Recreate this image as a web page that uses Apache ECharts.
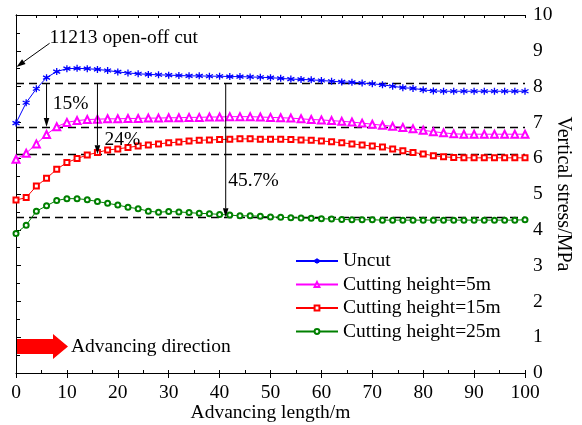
<!DOCTYPE html>
<html>
<head>
<meta charset="utf-8">
<script src="https://cdn.jsdelivr.net/npm/echarts@6/dist/echarts.min.js"></script>
<style>
  html, body { margin: 0; padding: 0; background: #fff; }
  #chart { width: 582px; height: 425px; }
</style>
</head>
<body>
<div id="chart"></div>
<script>
// Advancing length (m)
const lengths = [0, 2, 4, 6, 8, 10, 12, 14, 16, 18, 20, 22, 24, 26, 28, 30, 32, 34, 36, 38, 40,
  42, 44, 46, 48, 50, 52, 54, 56, 58, 60, 62, 64, 66, 68, 70, 72, 74, 76, 78, 80,
  82, 84, 86, 88, 90, 92, 94, 96, 98, 100];

// Vertical stress (MPa) for each case
const uncut = [6.98, 7.55, 7.94, 8.25, 8.42, 8.50, 8.51, 8.50, 8.48, 8.45, 8.41, 8.38, 8.36, 8.34, 8.33,
  8.32, 8.31, 8.30, 8.30, 8.29, 8.29, 8.28, 8.28, 8.27, 8.26, 8.25, 8.23, 8.21, 8.20, 8.19,
  8.17, 8.15, 8.13, 8.12, 8.10, 8.08, 8.05, 8.01, 7.97, 7.95, 7.91, 7.88, 7.87, 7.87, 7.87,
  7.87, 7.87, 7.87, 7.87, 7.87, 7.87];
const cut5m = [5.97, 6.14, 6.40, 6.66, 6.88, 7.00, 7.05, 7.08, 7.09, 7.10, 7.10, 7.11, 7.11, 7.12, 7.12,
  7.13, 7.13, 7.14, 7.14, 7.15, 7.15, 7.16, 7.16, 7.16, 7.15, 7.14, 7.13, 7.12, 7.10, 7.08,
  7.07, 7.05, 7.03, 7.01, 6.98, 6.95, 6.92, 6.89, 6.86, 6.82, 6.78, 6.74, 6.71, 6.68, 6.67,
  6.67, 6.67, 6.67, 6.67, 6.67, 6.67];
const cut15m = [4.83, 4.90, 5.22, 5.44, 5.69, 5.88, 5.99, 6.09, 6.16, 6.23, 6.26, 6.30, 6.34, 6.37, 6.40,
  6.43, 6.45, 6.48, 6.50, 6.51, 6.52, 6.53, 6.54, 6.54, 6.53, 6.53, 6.53, 6.52, 6.51, 6.50,
  6.48, 6.46, 6.43, 6.40, 6.37, 6.34, 6.31, 6.26, 6.21, 6.16, 6.12, 6.07, 6.04, 6.02, 6.01,
  6.01, 6.01, 6.01, 6.01, 6.01, 6.01];
const cut25m = [3.90, 4.13, 4.52, 4.67, 4.82, 4.87, 4.87, 4.84, 4.79, 4.74, 4.69, 4.63, 4.59, 4.52, 4.49,
  4.51, 4.50, 4.48, 4.46, 4.45, 4.43, 4.41, 4.39, 4.39, 4.38, 4.36, 4.35, 4.34, 4.33, 4.32,
  4.31, 4.30, 4.29, 4.28, 4.28, 4.28, 4.27, 4.27, 4.27, 4.27, 4.27, 4.27, 4.27, 4.27, 4.27,
  4.27, 4.27, 4.27, 4.27, 4.27, 4.28];

const seriesNames = ['Uncut', 'Cutting height=5m', 'Cutting height=15m', 'Cutting height=25m'];

// Stable stress levels (dashed reference lines)
const stableLevels = [8.08, 6.87, 6.11, 4.35];

// Stress reduction markers: position along the panel, from/to levels, text
const dropAt = [6, 16, 41.2];
const dropFrom = [8.08, 8.08, 8.08];
const dropTo = [6.87, 6.11, 4.35];
const dropText = ['15%', '24%', '45.7%'];

const serif = "'Liberation Serif', 'Times New Roman', serif";
const fs = 19.5;
const pair = (ys) => lengths.map((x, i) => [x, ys[i]]);

const chart = echarts.init(document.getElementById('chart'), null, { renderer: 'canvas' });

const asterisk = 'path://M0,-5L0,5M-4.33,-2.5L4.33,2.5M-4.33,2.5L4.33,-2.5';

const curveBase = {
  type: 'line',
  xAxisIndex: 0,
  yAxisIndex: 0,
  silent: true,
  z: 5
};

const series = [
  {
    type: 'line',
    name: 'levels',
    xAxisIndex: 0, yAxisIndex: 0,
    data: [],
    silent: true,
    z: 3,
    markLine: {
      silent: true,
      symbol: ['none', 'none'],
      label: { show: false },
      lineStyle: { color: '#000', type: [8, 5], width: 1.4 },
      data: stableLevels.map(v => [{ coord: [0, v] }, { coord: [100, v] }])
    }
  },
  Object.assign({}, curveBase, {
    name: seriesNames[0],
    data: pair(uncut),
    symbol: asterisk,
    symbolSize: 7,
    lineStyle: { color: '#0000ff', width: 1 },
    itemStyle: { color: '#0000ff', borderColor: '#0000ff', borderWidth: 1.3 }
  }),
  Object.assign({}, curveBase, {
    name: seriesNames[1],
    data: pair(cut5m),
    symbol: 'emptyTriangle',
    symbolSize: 7,
    lineStyle: { color: '#ff00ff', width: 1 },
    itemStyle: { color: '#ff00ff', borderColor: '#ff00ff', borderWidth: 1 }
  }),
  Object.assign({}, curveBase, {
    name: seriesNames[2],
    data: pair(cut15m),
    symbol: 'emptyRect',
    symbolSize: 5,
    lineStyle: { color: '#ff0000', width: 1 },
    itemStyle: { color: '#ff0000', borderColor: '#ff0000', borderWidth: 1 }
  }),
  Object.assign({}, curveBase, {
    name: seriesNames[3],
    data: pair(cut25m),
    symbol: 'emptyCircle',
    symbolSize: 5,
    lineStyle: { color: '#008000', width: 1 },
    itemStyle: { color: '#008000', borderColor: '#008000', borderWidth: 1 }
  })
];

const axisBlack = { lineStyle: { color: '#000', width: 1 } };

chart.setOption({
  animation: false,
  backgroundColor: '#fff',
  grid: { left: 16, right: 57, top: 15, bottom: 52, containLabel: false, outerBoundsMode: 'none' },
  legend: {
    data: seriesNames,
    orient: 'vertical',
    left: 290,
    top: 246,
    itemWidth: 42,
    itemHeight: 6,
    itemGap: 3.5,
    selectedMode: false,
    textStyle: { fontFamily: serif, fontSize: fs, color: '#000', lineHeight: 19.5 }
  },
  xAxis: [
    {
      type: 'value', position: 'bottom', min: 0, max: 100, interval: 10,
      name: 'Advancing length/m', nameLocation: 'middle', nameGap: 30, nameMoveOverlap: false,
      nameTextStyle: { fontFamily: serif, fontSize: fs, color: '#000' },
      axisLine: axisBlack,
      axisTick: { show: true, inside: false, length: 5, lineStyle: { color: '#000' } },
      axisLabel: { fontFamily: serif, fontSize: fs, color: '#000', margin: 10 },
      splitLine: { show: false }
    },
    {
      type: 'value', position: 'bottom', min: 0, max: 100, interval: 5,
      axisLine: { show: false },
      axisTick: { show: true, inside: true, length: 3, lineStyle: { color: '#000' } },
      axisLabel: { show: false },
      splitLine: { show: false }
    },
    {
      type: 'value', position: 'top', min: 0, max: 100, interval: 4,
      axisLine: axisBlack,
      axisTick: { show: true, inside: true, length: 3, lineStyle: { color: '#000' } },
      axisLabel: { show: false },
      splitLine: { show: false }
    }
  ],
  yAxis: [
    {
      type: 'value', position: 'right', min: 0, max: 10, interval: 1,
      name: 'Vertical stress/MPa', nameLocation: 'middle', nameGap: 28, nameRotate: -90, nameMoveOverlap: false,
      nameTextStyle: { fontFamily: serif, fontSize: 20, color: '#000' },
      axisLine: { show: true, lineStyle: { color: '#000', width: 1 } },
      axisTick: { show: true, inside: false, length: 5, lineStyle: { color: '#000' } },
      minorTick: { show: true, splitNumber: 2, length: 3, lineStyle: { color: '#000' } },
      axisLabel: { fontFamily: serif, fontSize: fs, color: '#000', margin: 8 },
      splitLine: { show: false }
    },
    {
      type: 'value', position: 'left', min: 0, max: 10, interval: 0.5,
      axisLine: { show: true, lineStyle: { color: '#000', width: 1 } },
      axisTick: { show: true, inside: true, length: 4, lineStyle: { color: '#000' } },
      axisLabel: { show: false },
      splitLine: { show: false }
    }
  ],
  series: series
});

// Annotations anchored in data space
const px = (x, y) => chart.convertToPixel({ xAxisIndex: 0, yAxisIndex: 0 }, [x, y]);
const textAt = (x, y, text) => {
  const p = px(x, y);
  return {
    type: 'text', x: p[0], y: p[1], silent: true, z: 10,
    style: { text: text, fontFamily: serif, fontSize: fs, fill: '#000', align: 'left', verticalAlign: 'middle' }
  };
};

// Straight arrow with a filled triangular head
const arrow = (from, to, headLen, headHalf) => {
  const a = px(from[0], from[1]);
  const b = px(to[0], to[1]);
  const ang = Math.atan2(b[1] - a[1], b[0] - a[0]);
  const hx = b[0] - headLen * Math.cos(ang), hy = b[1] - headLen * Math.sin(ang);
  return [
    {
      type: 'line', silent: true, z: 10,
      shape: { x1: a[0], y1: a[1], x2: hx, y2: hy },
      style: { stroke: '#000', lineWidth: 1 }
    },
    {
      type: 'polygon', silent: true, z: 10,
      shape: { points: [
        [b[0], b[1]],
        [hx + headHalf * Math.sin(ang), hy - headHalf * Math.cos(ang)],
        [hx - headHalf * Math.sin(ang), hy + headHalf * Math.cos(ang)]
      ] },
      style: { fill: '#000' }
    }
  ];
};

let graphics = [textAt(6.6, 9.35, '11213 open-off cut')];
graphics = graphics.concat(arrow([6.6, 9.21], [0.1, 8.55], 9, 3));
dropAt.forEach((x, i) => {
  graphics = graphics.concat(arrow([x, dropFrom[i]], [x, dropTo[i]], 9, 2.8));
});
graphics.push(textAt(7.2, 7.51, dropText[0]));
graphics.push(textAt(17.4, 6.51, dropText[1]));
graphics.push(textAt(41.7, 5.36, dropText[2]));

// Advancing direction arrow
graphics.push({
  type: 'polygon', silent: true, z: 10,
  shape: { points: [[17, 339], [53, 339], [53, 334], [68, 346.5], [53, 359], [53, 354], [17, 354]] },
  style: { fill: '#ff0000' }
});
graphics.push({
  type: 'text', x: 71, y: 347, silent: true, z: 10,
  style: { text: 'Advancing direction', fontFamily: serif, fontSize: fs, fill: '#000', verticalAlign: 'middle' }
});

chart.setOption({ graphic: graphics });
</script>
</body>
</html>
